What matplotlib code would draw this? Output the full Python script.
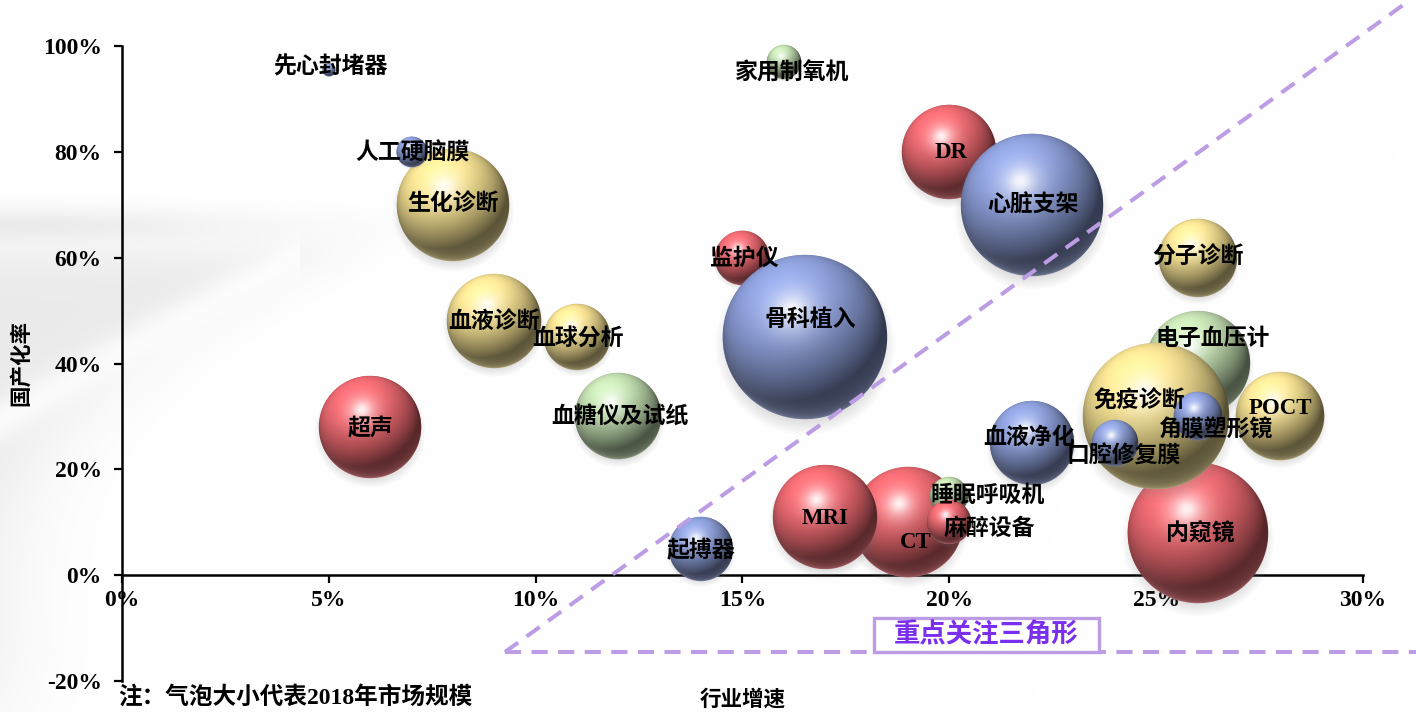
import numpy as np
import matplotlib
matplotlib.use("Agg")
import matplotlib.pyplot as plt
from matplotlib.offsetbox import OffsetImage, AnnotationBbox
from matplotlib.patches import Rectangle

# ---------------- data ----------------
names = ['生化诊断', '人工硬脑膜', '先心封堵器', '血液诊断', '血球分析', '超声', '血糖仪及试纸',
         '起搏器', '家用制氧机', '监护仪', '骨科植入', 'DR', '心脏支架', '分子诊断', '电子血压计',
         '内窥镜', '免疫诊断', '角膜塑形镜', '口腔修复膜', 'POCT', '血液净化', 'CT', 'MRI',
         '睡眠呼吸机', '麻醉设备']
growth = [8, 7, 5, 9, 11, 6, 12, 14, 16, 15, 16.5, 20, 22, 26, 26, 26, 25, 26, 24, 28, 22, 19, 17, 20, 20]
localization = [70, 80, 95.5, 48, 45, 28, 30, 5, 97, 60, 45, 80, 70, 60, 40, 8, 30, 30, 25, 30, 25, 10, 11, 15, 10]
market_size = [31.4, 2.3, 0.4, 22.1, 10.9, 26.0, 18.5, 10.2, 2.9, 7.3, 67.2, 22.1, 50.4, 15.2, 27.0,
               49.0, 53.3, 5.8, 5.3, 19.4, 17.6, 30.3, 27.0, 3.6, 4.8]
group = ['ivd', 'blue', 'blue', 'ivd', 'ivd', 'red', 'green', 'blue', 'green', 'red', 'blue', 'red', 'blue',
         'ivd', 'green', 'red', 'ivd', 'blue', 'blue', 'ivd', 'blue', 'red', 'red', 'green', 'red']
x_ticks = [0, 5, 10, 15, 20, 25, 30]
y_ticks = [-20, 0, 20, 40, 60, 80, 100]
focus_label = '重点关注三角形'
note_text = '注：气泡大小代表2018年市场规模'
x_title = '行业增速'
y_title = '国产化率'

# ---------------- style ----------------
base_colors = {'red': (0.94, 0.42, 0.45), 'blue': (0.56, 0.63, 0.86),
               'ivd': (0.97, 0.89, 0.58), 'green': (0.77, 0.88, 0.70)}
# label offsets in pixels (right, down)
label_off = [(0, 0), (1, 2), (1, -2), (0, 2), (1, 2), (0, 2), (1, 1), (0, 2), (8, 12), (2, 1),
             (6, -17), (2, 1), (1, 1), (0, 0), (15, -24), (3, 2), (-17, -15), (19, 14), (9, 14),
             (0, -8), (-3, -5), (8, 20), (0, 2), (38, 0), (40, 7)]
W, H, DPI = 1416, 712, 100
PX_PER_SIZE = 10.0  # bubble radius in px = 10*sqrt(size)
purple_line = '#BC9CE4'
purple_text = '#7A2EEE'
mixed_font = ['Liberation Serif', 'Noto Sans CJK SC', 'DejaVu Sans']
plt.rcParams['font.family'] = mixed_font
plt.rcParams['font.weight'] = 'bold'

AX_L, AX_R, AX_T, AX_B = 122, 1363, 46, 681  # pixel frame of the plot area


def sphere_image(rgb, r):
    pad = int(np.ceil(r * 0.3)) + 3
    R = int(np.ceil(r))
    N = 2 * (R + pad)
    c = N / 2.0
    yy, xx = np.mgrid[0:N, 0:N].astype(float)
    xx = xx + 0.5 - c
    yy = yy + 0.5 - c
    d = np.sqrt(xx ** 2 + yy ** 2)
    nx = xx / r
    ny = -yy / r
    nz = np.sqrt(np.clip(1 - nx ** 2 - ny ** 2, 0, 1))
    L = np.array([-0.30, 0.62, 0.72]); L /= np.linalg.norm(L)
    Hh = L + np.array([0, 0, 1.0]); Hh /= np.linalg.norm(Hh)
    diff = np.clip(nx * L[0] + ny * L[1] + nz * L[2], 0, 1)
    nh = np.clip(nx * Hh[0] + ny * Hh[1] + nz * Hh[2], 0, 1)
    spec = 0.55 * nh ** 18 + 0.35 * nh ** 80
    base = np.array(rgb)
    col = base[None, None, :] * (0.36 + 0.74 * diff[..., None])
    col = col + (1 - col) * spec[..., None]
    rim = np.clip(-ny, 0, 1) ** 1.2 * (1 - nz) ** 2.0 * 0.55
    light = base + (1 - base) * 0.35
    col = col + (light[None, None, :] - col) * rim[..., None]
    col = np.clip(col, 0, 1)
    a_s = np.clip(r - d + 0.7, 0, 1)
    sd = np.sqrt(xx ** 2 + (yy - 0.10 * r) ** 2)
    sh = 0.30 * np.clip((1.10 * r - sd) / (0.22 * r + 2), 0, 1)
    sc = np.array([0.45, 0.45, 0.45])
    A = a_s + sh * (1 - a_s)
    rgbout = (col * a_s[..., None] + sc[None, None, :] * (sh * (1 - a_s))[..., None]) / np.maximum(A, 1e-6)[..., None]
    img = np.dstack([rgbout, A])
    return img


def background():
    yy, xx = np.mgrid[0:H, 0:W].astype(float)
    dark = np.zeros((H, W))
    dark += 0.07 * np.exp(-((yy - 224) / 17.0) ** 2) * np.exp(-(xx / 240.0) ** 2)
    t = np.clip((600 - yy) / 350.0, 0, None)
    xb = 330 * t ** 2.4
    inside = 1 / (1 + np.exp(-(xb - xx) / 30.0))
    top = 1 / (1 + np.exp(-(yy - 250) / 12.0))
    bottom = 1 / (1 + np.exp((yy - 720) / 30.0))
    d2 = 0.08 * inside * top * bottom
    ys = 420 - 0.55 * xx
    d2 *= 1 - 0.75 * np.exp(-((yy - ys) / 22.0) ** 2) * (xx < 300)
    dark += d2
    g = 1 - dark
    return np.dstack([g, g, g])


fig = plt.figure(figsize=(W / DPI, H / DPI), dpi=DPI)
fig.figimage(background(), xo=0, yo=0, origin='upper', zorder=-10)
ax = fig.add_axes([AX_L / W, (H - AX_B) / H, (AX_R - AX_L) / W, (AX_B - AX_T) / H])
ax.set_facecolor('none')
ax.set_xlim(x_ticks[0], x_ticks[-1])
ax.set_ylim(y_ticks[0], y_ticks[-1])

# bubbles: scatter as base, shaded sphere images on top
radii = [PX_PER_SIZE * np.sqrt(s) for s in market_size]
sizes_pt2 = [(2 * r * 72.0 / DPI) ** 2 for r in radii]
ax.scatter(growth, localization, s=sizes_pt2, c=[base_colors[g] for g in group],
           linewidths=0, zorder=2)
for i, (x, y, r, g) in enumerate(zip(growth, localization, radii, group)):
    img = sphere_image(base_colors[g], r)
    ab = AnnotationBbox(OffsetImage(img, zoom=1, dpi_cor=False), (x, y), frameon=False, pad=0,
                        box_alignment=(0.5, 0.5), zorder=3 + i * 0.01)
    ax.add_artist(ab)

# pixel -> data helpers for decorations
px_x = (AX_R - AX_L) / (x_ticks[-1] - x_ticks[0])
px_y = (AX_B - AX_T) / (y_ticks[-1] - y_ticks[0])


def dx(p):
    return (p - AX_L) / px_x


def dy(p):
    return (AX_B - p) / px_y + y_ticks[0]


# dashed triangle
x0, y0 = dx(505), dy(652)
x1, y1 = dx(1410), dy(0)
ax.plot([x0, x1], [y0, y1], color=purple_line, lw=2.9,
        dashes=(4.0, 2.6), clip_on=False, zorder=4, dash_capstyle='butt')
ax.plot([x0, dx(1420)], [y0, y0], color=purple_line, lw=2.9, dashes=(4.0, 2.6), clip_on=False,
        zorder=4, dash_capstyle='butt')

# labels
for name, x, y, (ox, oy) in zip(names, growth, localization, label_off):
    ax.annotate(name, (x, y), xytext=(ox, -oy), textcoords='offset pixels', ha='center',
                va='center', fontsize=16.5, fontweight='bold', family=mixed_font, zorder=6,
                annotation_clip=False)

# focus box
bx0, bx1 = dx(874), dx(1099)
by0, by1 = dy(652), dy(618)
ax.add_patch(Rectangle((bx0, by0), bx1 - bx0, by1 - by0, facecolor='white', edgecolor=purple_line,
                       lw=2.4, clip_on=False, zorder=5))
ax.text((bx0 + bx1) / 2, (by0 + by1) / 2, focus_label, ha='center', va='center', fontsize=19,
        color=purple_text, fontweight='bold', family=['Noto Sans CJK SC'], zorder=6)

# axes styling
for s in ['top', 'right']:
    ax.spines[s].set_visible(False)
ax.spines['bottom'].set_position(('data', 0))
ax.spines['bottom'].set_linewidth(1.8)
ax.spines['left'].set_linewidth(1.8)
ax.set_xticks(x_ticks)
ax.set_xticklabels([f'{v}%' for v in x_ticks])
ax.set_yticks(y_ticks)
ax.set_yticklabels([f'{v}%' for v in y_ticks])
ax.tick_params(axis='x', direction='out', length=5.5, width=1.6, pad=5)
ax.tick_params(axis='y', direction='out', length=5.5, width=1.6, pad=9)
for lab in ax.get_xticklabels() + ax.get_yticklabels():
    lab.set_fontfamily('Liberation Serif')
    lab.set_fontweight('bold')
    lab.set_fontsize(17)

fig.text(22 / W, 1 - 363 / H, y_title, rotation=90, ha='center', va='center', fontsize=15.5,
         fontweight='bold', family=mixed_font)
fig.text(743 / W, 1 - 700 / H, x_title, ha='center', va='center', fontsize=15.5,
         fontweight='bold', family=mixed_font)
fig.text(118 / W, 1 - 697 / H, note_text, ha='left', va='center', fontsize=17,
         fontweight='bold', family=mixed_font)

fig.savefig('out.png', dpi=DPI)
